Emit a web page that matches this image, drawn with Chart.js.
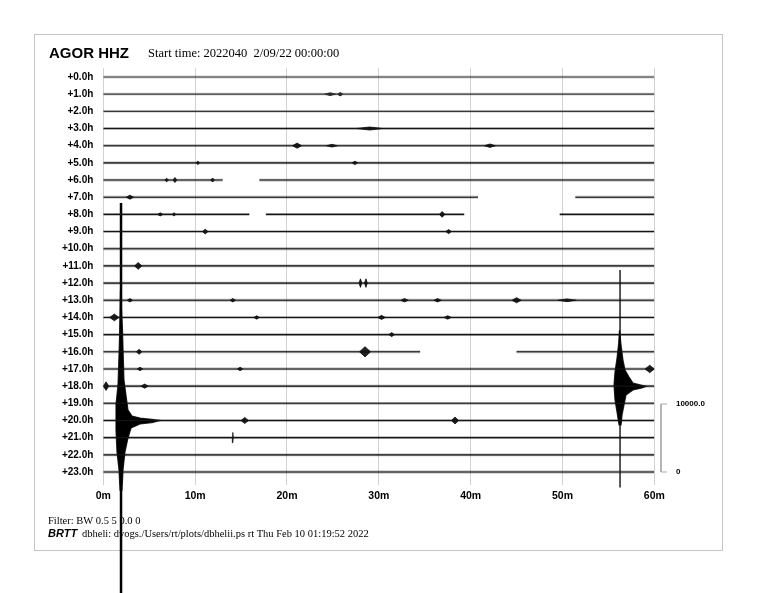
<!DOCTYPE html>
<html><head><meta charset="utf-8">
<script src="https://cdn.jsdelivr.net/npm/chart.js@4/dist/chart.umd.min.js"></script>
<style>html,body{margin:0;padding:0;background:#fff}canvas{display:block}</style>
</head><body>
<canvas id="c" width="768" height="593"></canvas>
<script>
const rowLabels = ["+0.0h","+1.0h","+2.0h","+3.0h","+4.0h","+5.0h","+6.0h","+7.0h","+8.0h","+9.0h","+10.0h","+11.0h",
  "+12.0h","+13.0h","+14.0h","+15.0h","+16.0h","+17.0h","+18.0h","+19.0h","+20.0h","+21.0h","+22.0h","+23.0h"];
const rowIndex = rowLabels.map((_, i) => i);
const xTickValues = [0, 10, 20, 30, 40, 50, 60];          // minutes
// trace segments (minutes) for rows with data gaps; other rows run 0..60
const traceSegments = {
  6: [[0, 13.0], [17.0, 60]],
  7: [[0, 40.8], [51.4, 60]],
  8: [[0, 15.9], [17.7, 39.3], [49.7, 60]],
  16: [[0, 34.5], [45.0, 60]]
};
// small bursts: [row, minute, amplitude (rows), half-duration (minutes)]
const bursts = [
  [1, 24.7, 0.08, 0.6], [1, 25.8, 0.10, 0.3],
  [3, 29.0, 0.09, 1.4],
  [4, 21.1, 0.15, 0.5], [4, 24.9, 0.08, 0.6], [4, 42.1, 0.10, 0.6],
  [5, 10.3, 0.10, 0.2], [5, 27.4, 0.10, 0.3],
  [6, 6.9, 0.10, 0.2], [6, 7.8, 0.15, 0.2], [6, 11.9, 0.12, 0.2],
  [7, 2.9, 0.12, 0.4],
  [8, 6.2, 0.09, 0.3], [8, 7.7, 0.10, 0.2], [8, 36.9, 0.17, 0.3],
  [9, 11.1, 0.14, 0.3], [9, 37.6, 0.12, 0.3],
  [11, 3.8, 0.20, 0.4],
  [12, 28.0, 0.25, 0.15], [12, 28.6, 0.25, 0.15],
  [13, 2.9, 0.10, 0.3], [13, 14.1, 0.10, 0.3], [13, 32.8, 0.10, 0.4], [13, 36.4, 0.10, 0.4], [13, 45.0, 0.15, 0.5], [13, 50.5, 0.08, 1.0],
  [14, 1.2, 0.20, 0.5], [14, 16.7, 0.10, 0.3], [14, 30.3, 0.12, 0.4], [14, 37.5, 0.10, 0.4],
  [15, 31.4, 0.12, 0.3],
  [16, 3.9, 0.15, 0.3], [16, 28.5, 0.30, 0.6],
  [17, 4.0, 0.10, 0.3], [17, 14.9, 0.10, 0.3], [17, 59.5, 0.22, 0.5],
  [18, 0.3, 0.25, 0.3], [18, 4.5, 0.12, 0.4],
  [20, 15.4, 0.18, 0.4], [20, 38.3, 0.20, 0.4],
  [21, 14.1, 0.30, 0.05]
];
// earthquake envelopes (minute, row)
const quakeA = [[1.87,12.40],[2.09,14.73],[2.25,17.64],[2.47,18.52],[2.69,19.39],[3.13,19.74],[4.00,19.86],[5.30,19.94],[6.17,20.00],
  [5.30,20.12],[4.00,20.20],[3.02,20.44],[2.69,21.02],[2.36,21.84],[2.15,22.88],[2.04,24.05],[1.82,24.05],[1.71,22.88],
  [1.49,21.84],[1.38,20.55],[1.38,19.09],[1.60,17.93],[1.76,15.32],[1.87,12.40]];
const quakeASpike = [[1.93, 7.34], [1.93, 30.5]];
const quakeB = [[56.21,14.73],[56.38,15.61],[56.59,16.48],[56.81,17.06],[57.25,17.47],[57.68,17.82],[58.66,17.96],[59.10,18.02],
  [58.66,18.11],[57.68,18.22],[56.92,18.52],[56.70,19.10],[56.49,19.68],[56.38,20.26],[56.16,20.26],[55.94,19.51],
  [55.72,18.81],[55.61,17.94],[55.72,17.18],[55.94,16.36],[56.10,15.61],[56.21,14.73]];
const quakeBSpike = [[56.27, 11.24], [56.27, 23.9]];
// amplitude scale bar: counts label and the rows it spans
const scaleLabels = ["10000.0", "0"];
const scaleRows = [19.04, 23.0];
const scaleMinute = 60.73, scaleTickMinute = 61.38;

// ---- build datasets ----
const pt = (a) => ({x: a[0], y: a[1]});
const datasets = [];
rowIndex.forEach(r => {
  const segs = traceSegments[r] || [[0, 60]];
  const data = [];
  segs.forEach((s, i) => {
    if (i > 0) data.push({x: (segs[i-1][1] + s[0]) / 2, y: null});
    data.push({x: s[0], y: r}, {x: s[1], y: r});
  });
  // soft halo (noise band) + dark core
  datasets.push({data, showLine: true, spanGaps: false, pointRadius: 0,
    borderColor: r < 3 ? 'rgba(0,0,0,0.18)' : 'rgba(0,0,0,0.3)', borderWidth: 2.8});
  datasets.push({data, showLine: true, spanGaps: false, pointRadius: 0,
    borderColor: r < 3 ? '#444' : '#1e1e1e', borderWidth: 1.1});
});
bursts.forEach(b => {
  const [r, m, a, w] = b;
  datasets.push({data: [{x: m-w, y: r}, {x: m, y: r-a}, {x: m+w, y: r}, {x: m, y: r+a}, {x: m-w, y: r}],
    showLine: true, pointRadius: 0, fill: 'shape', backgroundColor: '#222', borderColor: 'rgba(0,0,0,0.7)', borderWidth: 1});
});
[quakeA, quakeB].forEach(q => datasets.push({data: q.map(pt), showLine: true, pointRadius: 0, fill: 'shape',
  backgroundColor: '#000', borderColor: 'rgba(0,0,0,0.8)', borderWidth: 1.2, clip: false}));
datasets.push({data: quakeASpike.map(pt), showLine: true, pointRadius: 0, borderColor: '#000', borderWidth: 2.5, clip: false});
datasets.push({data: quakeBSpike.map(pt), showLine: true, pointRadius: 0, borderColor: '#000', borderWidth: 1.3, clip: false});
datasets.push({data: [{x: scaleTickMinute, y: scaleRows[0]}, {x: scaleMinute, y: scaleRows[0]}, {x: scaleMinute, y: scaleRows[1]}, {x: scaleTickMinute, y: scaleRows[1]}],
  showLine: true, pointRadius: 0, borderColor: '#aaa', borderWidth: 1, clip: false});

const deco = {
  id: 'deco',
  beforeDraw(chart) {
    const c = chart.ctx;
    c.save();
    c.fillStyle = '#fff'; c.fillRect(0, 0, chart.width, chart.height);
    c.strokeStyle = '#c4c4c4'; c.lineWidth = 1; c.strokeRect(34.5, 34.5, 688, 516);
    c.fillStyle = '#000'; c.textBaseline = 'middle'; c.textAlign = 'left';
    c.font = 'bold 15px "Liberation Sans", Arial, sans-serif';
    c.fillText('AGOR HHZ', 49, 53.5);
    c.font = '12.5px "Liberation Serif", "Times New Roman", serif';
    c.fillText('Start time: 2022040  2/09/22 00:00:00', 148, 54);
    c.font = '10.5px "Liberation Serif", "Times New Roman", serif';
    c.fillText('Filter: BW 0.5 5 0.0 0', 48, 521);
    c.font = 'italic bold 11px "Liberation Sans", Arial, sans-serif';
    c.fillText('BRTT', 48, 534);
    c.font = '10.5px "Liberation Serif", "Times New Roman", serif';
    c.fillText('dbheli: dvogs./Users/rt/plots/dbhelii.ps rt Thu Feb 10 01:19:52 2022', 82, 534);
    c.restore();
  },
  afterDraw(chart) {
    const c = chart.ctx, xs = chart.scales.x, ys = chart.scales.y;
    c.save();
    c.fillStyle = '#000'; c.textBaseline = 'middle'; c.textAlign = 'left';
    c.font = 'bold 8px "Liberation Sans", Arial, sans-serif';
    scaleLabels.forEach((t, i) => c.fillText(t, xs.getPixelForValue(scaleTickMinute) + 9, ys.getPixelForValue(scaleRows[i])));
    c.restore();
  }
};

new Chart(document.getElementById('c'), {
  type: 'scatter',
  data: {datasets},
  plugins: [deco],
  options: {
    responsive: false, animation: false, events: [],
    layout: {padding: {top: 68, right: 113.7, left: 0, bottom: 0}},
    plugins: {legend: {display: false}, tooltip: {enabled: false}},
    scales: {
      x: {type: 'linear', position: 'bottom', min: 0, max: 60,
        afterBuildTicks: s => { s.ticks = xTickValues.map(v => ({value: v})); },
        afterFit: s => { s.height = 108; },
        grid: {color: '#d2d2d2', lineWidth: 1, drawTicks: false},
        border: {display: false},
        ticks: {padding: 5, color: '#000', font: {family: '"Liberation Sans", Arial, sans-serif', weight: 'bold', size: 10.5},
          callback: v => v + 'm', maxRotation: 0, autoSkip: false}},
      y: {type: 'linear', reverse: true, min: -0.524, max: 23.757,
        afterBuildTicks: s => { s.ticks = rowIndex.map(v => ({value: v})); },
        afterFit: s => { s.width = 103.3; },
        grid: {display: false, drawTicks: false},
        border: {display: false},
        ticks: {padding: 10, color: '#000', font: {family: '"Liberation Sans", Arial, sans-serif', weight: 'bold', size: 10},
          callback: v => rowLabels[v], autoSkip: false}}
    }
  }
});
</script>
</body></html>
